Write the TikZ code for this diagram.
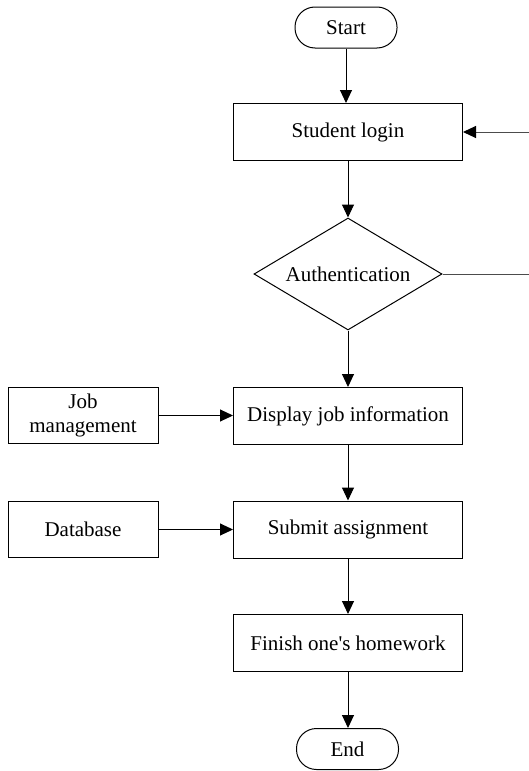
\documentclass[tikz,border=0pt]{standalone}
\usepackage{fontspec}
\setmainfont{Liberation Serif}
\usetikzlibrary{arrows.meta,shapes.geometric}
\begin{document}
\begin{tikzpicture}[x=1pt,y=-1pt,
  every node/.style={font=\fontsize{21}{24}\selectfont, inner sep=0pt},
  terminal/.style={draw, line width=1pt, rounded corners=20pt, minimum width=102pt, minimum height=41pt},
  process/.style={draw, line width=1pt, minimum width=229pt, minimum height=57pt},
  source/.style={draw, line width=1pt, minimum width=150pt, minimum height=56pt, align=center},
  decision/.style={draw, line width=1pt, diamond, aspect=1.68, minimum width=188pt, minimum height=112pt},
  tip/.style={-{Triangle[length=13pt,width=12pt,color=black]}},
  flow/.style={line width=1pt, tip},
  back/.style={line width=1pt, draw=black!70}
]
\useasboundingbox (0,0) rectangle (529,771);

% main column
\node[terminal] (start) at (346,27.5) {Start};
\node[process]  (login) at (348,132) {Student login};
\node[decision] (auth)  at (348,274) {Authentication};
\node[process]  (show)  at (348,416) {Display job information};
\node[process]  (submit) at (348,529.5) {Submit assignment};
\node[process]  (finish) at (348,643) {Finish one\textquotesingle s homework};
\node[terminal] (end)   at (347.5,749) {End};

% side inputs
\node[source] (jobs) at (83,415.5) {Job\\management};
\node[source] (db)   at (83,529.5) {Database};

% open ends of the return loop
\coordinate (retin)  at (529,132);
\coordinate (retout) at (529,274);

\draw[flow] (start) -- (start |- login.north);
\draw[flow] (login) -- (auth.north);
\draw[flow] (auth.south) -- (show.north);
\draw[flow] (show) -- (submit);
\draw[flow] (submit) -- (finish);
\draw[flow] (finish.south) -- (finish.south |- end.north);
\draw[flow] (jobs.east) -- (jobs.east -| show.west);
\draw[flow] (db) -- (submit);
\draw[back] (auth.east) -- (retout);
\draw[back, tip] (retin) -- (login.east);
\end{tikzpicture}
\end{document}
